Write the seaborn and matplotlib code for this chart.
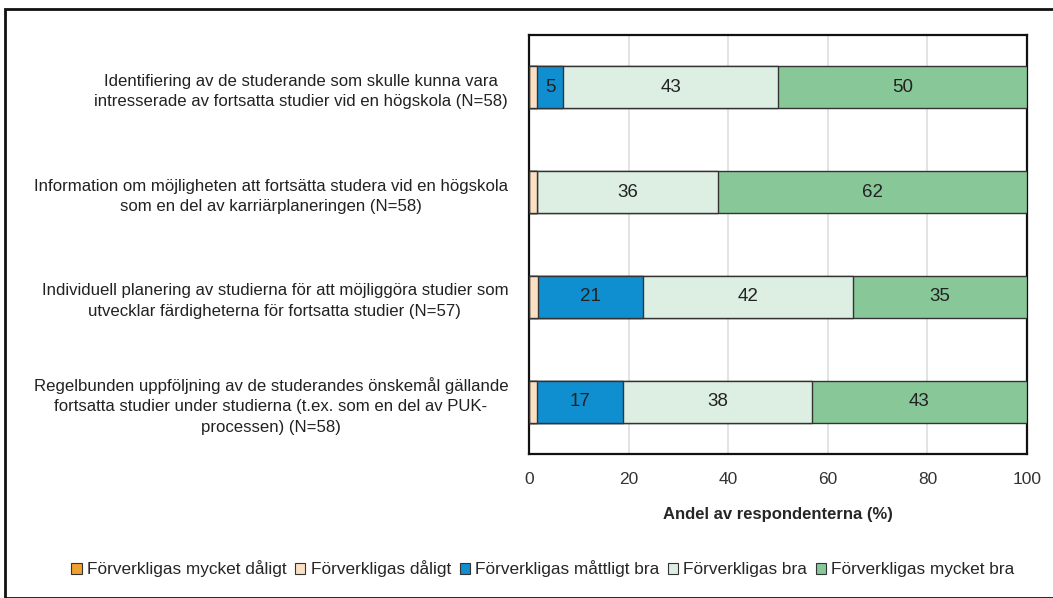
import numpy as np
import pandas as pd
import matplotlib.pyplot as plt
import seaborn as sns
from matplotlib.patches import Rectangle, Patch

sns.set_theme(style="white")
plt.rcParams["font.family"] = ["Liberation Sans Narrow", "Liberation Sans", "DejaVu Sans"]

questions = [
    "Identifiering av de studerande som skulle kunna vara\nintresserade av fortsatta studier vid en högskola (N=58)",
    "Information om möjligheten att fortsätta studera vid en högskola\nsom en del av karriärplaneringen (N=58)",
    "Individuell planering av studierna för att möjliggöra studier som\nutvecklar färdigheterna för fortsatta studier (N=57)",
    "Regelbunden uppföljning av de studerandes önskemål gällande\nfortsatta studier under studierna (t.ex. som en del av PUK-\nprocessen) (N=58)",
]
categories = [
    "Förverkligas mycket dåligt",
    "Förverkligas dåligt",
    "Förverkligas måttligt bra",
    "Förverkligas bra",
    "Förverkligas mycket bra",
]
mycket_daligt = [0.0, 0.0, 0.0, 0.0]
daligt = [1.7, 1.7, 1.8, 1.7]
mattligt = [5.2, 0.0, 21.1, 17.2]
bra = [43.1, 36.2, 42.1, 37.9]
mycket_bra = [50.0, 62.1, 35.0, 43.2]
colors = ["#F0A030", "#FCE0C4", "#108FD0", "#DDEEE2", "#88C898"]

series = [mycket_daligt, daligt, mattligt, bra, mycket_bra]
cum = np.cumsum(np.array(series), axis=0)

fig = plt.figure(figsize=(10.53, 5.98), dpi=100)
ax = fig.add_axes([529 / 1053, 1 - 454 / 598, (1027 - 529) / 1053, (454 - 35) / 598])

# draw cumulative layers from the right so each segment overlays the next
for i in range(len(categories) - 1, -1, -1):
    df = pd.DataFrame({"q": questions, "v": cum[i]})
    sns.barplot(data=df, x="v", y="q", color=colors[i], orient="h", width=0.4,
                edgecolor="#333333", linewidth=1.0, saturation=1, ax=ax, zorder=3)

# value labels in the middle of each segment
for i in range(2, len(categories)):
    for j, q in enumerate(questions):
        val = series[i][j]
        if val >= 3:
            mid = cum[i][j] - val / 2
            ax.text(mid, j, f"{val:.0f}", ha="center", va="center", fontsize=13.5, color="#222222", zorder=5)

ax.set_xlim(0, 100)
ax.set_ylim(3.5, -0.5)
ax.set_xticks(range(0, 101, 20))
ax.tick_params(axis="x", labelsize=12.5, colors="#333333", pad=13, length=0)
ax.tick_params(axis="y", labelsize=12.1, colors="#222222", pad=15, length=0)
for lbl in ax.get_yticklabels():
    lbl.set_horizontalalignment("right")
    lbl.set_multialignment("center")
    lbl.set_linespacing(1.45)
ax.set_ylabel("")
ax.set_xlabel("Andel av respondenterna (%)", fontsize=12, fontweight="bold", labelpad=14)
ax.xaxis.grid(True, color="#DEDEDE", linewidth=1.2, zorder=0)
ax.set_axisbelow(True)
for s in ax.spines.values():
    s.set_visible(True)
    s.set_color("#111111")
    s.set_linewidth(1.6)

handles = [Patch(facecolor=c, edgecolor="#333333", linewidth=0.8) for c in colors]
fig.legend(handles, categories, loc="center", bbox_to_anchor=(543 / 1053, 1 - 569 / 598),
           ncol=5, frameon=False, fontsize=12.4, handlelength=0.6, handleheight=0.6,
           handletextpad=0.3, columnspacing=0.5)

fig.patches.append(Rectangle((5 / 1053, 0), 1.2, 1 - 9 / 598, transform=fig.transFigure,
                             fill=False, edgecolor="#111111", linewidth=2))

fig.savefig("out.png", dpi=100)
